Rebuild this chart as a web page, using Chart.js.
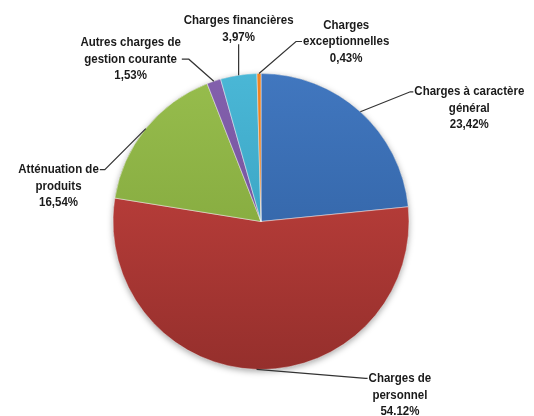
<!DOCTYPE html>
<html>
<head>
<meta charset="utf-8">
<script src="https://cdn.jsdelivr.net/npm/chart.js@4.4.1/dist/chart.umd.min.js"></script>
<style>
  html, body { margin: 0; padding: 0; background: #fff; }
  #wrap { width: 534px; height: 416px; position: relative; }
</style>
</head>
<body>
<div id="wrap"><canvas id="myChart"></canvas></div>
<script>
// categories, in drawing order (clockwise from 12 o'clock)
const categories = [
  ['Charges à caractère', 'général'],
  ['Charges de', 'personnel'],
  ['Atténuation de', 'produits'],
  ['Autres charges de', 'gestion courante'],
  ['Charges financières'],
  ['Charges', 'exceptionnelles']
];
const values = [23.42, 54.12, 16.54, 1.53, 3.97, 0.43];
const percentText = ['23,42%', '54.12%', '16,54%', '1,53%', '3,97%', '0,43%'];

// slice colours: light (top) / dark (bottom)
const lightColors = ['#4177bf', '#cc4541', '#97bd4d', '#8360ad', '#4ab7d6', '#f08524'];
const darkColors  = ['#2c5b9a', '#952f2c', '#7a9e36', '#6a4a92', '#2f97b6', '#d46f15'];

// label placement: elbow offset from slice edge, tick length, side, line aligned with elbow
const labelLayout = [
  { dx: 50,  dy: -20, tick: 3,  side: 'right', line: 0 },
  { dx: 109, dy: 9,   tick: 2,  side: 'right', line: 0 },
  { dx: -41, dy: 41,  tick: 5,  side: 'left',  line: 0 },
  { dx: -25, dy: -22, tick: 7,  side: 'left',  line: 1 },
  { dx: 0,   dy: -31, tick: 0,  side: 'above', line: 1 },
  { dx: 37,  dy: -32, tick: 6,  side: 'right', line: 1 }
];

const FONT = 'bold 13px "Liberation Sans", Arial, sans-serif';
const LINE_H = 16.5;
const NARROW_REF = 'Charges financières';
const NARROW_WIDTH = 110;   // width of the reference string in the picture

function sliceGradient(ctx) {
  const chart = ctx.chart;
  const area = chart.chartArea;
  if (!area) return lightColors[ctx.dataIndex];
  const g = chart.ctx.createLinearGradient(0, area.top, 0, area.bottom);
  g.addColorStop(0, lightColors[ctx.dataIndex]);
  g.addColorStop(1, darkColors[ctx.dataIndex]);
  return g;
}

const shadowPlugin = {
  id: 'pieShadow',
  beforeDatasetsDraw(chart) {
    const arc = chart.getDatasetMeta(0).data[0];
    if (!arc) return;
    const { x, y, outerRadius } = arc.getProps(['x', 'y', 'outerRadius'], true);
    const c = chart.ctx;
    c.save();
    c.shadowColor = 'rgba(0,0,0,0.35)';
    c.shadowBlur = 6;
    c.shadowOffsetY = 2;
    c.fillStyle = '#888';
    c.beginPath();
    c.arc(x, y, outerRadius, 0, Math.PI * 2);
    c.fill();
    c.restore();
  }
};

const calloutPlugin = {
  id: 'callouts',
  afterDatasetsDraw(chart) {
    const c = chart.ctx;
    const meta = chart.getDatasetMeta(0);
    c.save();
    c.font = FONT;
    c.textAlign = 'center';
    c.textBaseline = 'middle';
    const sx = NARROW_WIDTH / c.measureText(NARROW_REF).width;
    meta.data.forEach((arc, i) => {
      const p = arc.getProps(['x', 'y', 'startAngle', 'endAngle', 'outerRadius'], true);
      const mid = (p.startAngle + p.endAngle) / 2;
      const ax = p.x + Math.cos(mid) * p.outerRadius;
      const ay = p.y + Math.sin(mid) * p.outerRadius;
      const L = labelLayout[i];
      const ex = ax + L.dx, ey = ay + L.dy;
      const lines = categories[i].concat([percentText[i]]);
      const w = sx * Math.max(...lines.map(s => c.measureText(s).width));
      let tx, ty0, endX = ex;
      if (L.side === 'right') {
        endX = ex + L.tick;
        tx = endX + w / 2 + 1;
        ty0 = ey - L.line * LINE_H;
      } else if (L.side === 'left') {
        endX = ex - L.tick;
        tx = endX - w / 2 - 1;
        ty0 = ey - L.line * LINE_H;
      } else {
        tx = ex;
        ty0 = ey - 7 - (lines.length - 1) * LINE_H;
      }
      c.strokeStyle = '#333';
      c.lineWidth = 1.2;
      c.beginPath();
      c.moveTo(ax, ay);
      c.lineTo(ex, ey);
      c.lineTo(endX, ey);
      c.stroke();
      c.fillStyle = '#1a1a1a';
      lines.forEach((s, k) => {
        c.save();
        c.translate(tx, ty0 + k * LINE_H);
        c.scale(sx, 1);
        c.fillText(s, 0, 0);
        c.restore();
      });
    });
    c.restore();
  }
};

new Chart(document.getElementById('myChart'), {
  type: 'pie',
  data: {
    labels: categories.map(l => l.join(' ')),
    datasets: [{
      data: values,
      backgroundColor: sliceGradient,
      borderColor: 'rgba(255,255,255,0.45)',
      borderWidth: 1
    }]
  },
  options: {
    responsive: true,
    maintainAspectRatio: false,
    animation: false,
    rotation: 0,
    layout: { padding: { left: 112, right: 124, top: 73, bottom: 46 } },
    plugins: {
      legend: { display: false },
      tooltip: { enabled: false }
    }
  },
  plugins: [shadowPlugin, calloutPlugin]
});
</script>
</body>
</html>
